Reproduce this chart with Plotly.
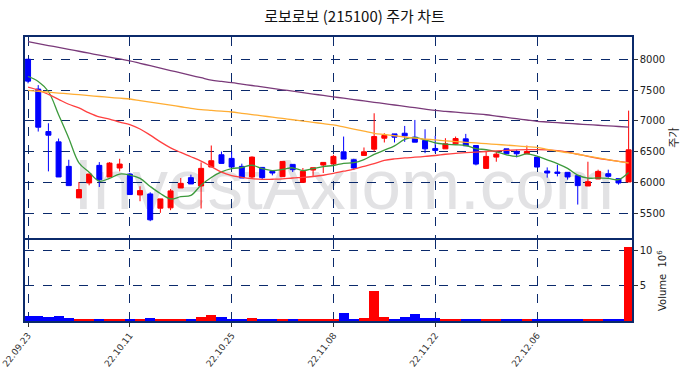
import plotly.graph_objects as go

dates = ["22.09.23","22.09.26","22.09.27","22.09.28","22.09.29","22.09.30",
         "22.10.04","22.10.05","22.10.06","22.10.07","22.10.11","22.10.12","22.10.13","22.10.14",
         "22.10.17","22.10.18","22.10.19","22.10.20","22.10.21","22.10.24","22.10.25","22.10.26",
         "22.10.27","22.10.28","22.10.31","22.11.01","22.11.02","22.11.03","22.11.04","22.11.07",
         "22.11.08","22.11.09","22.11.10","22.11.11","22.11.14","22.11.15","22.11.16","22.11.17",
         "22.11.18","22.11.21","22.11.22","22.11.23","22.11.24","22.11.25","22.11.28","22.11.29",
         "22.11.30","22.12.01","22.12.02","22.12.05","22.12.06","22.12.07","22.12.08","22.12.09",
         "22.12.12","22.12.13","22.12.14","22.12.15","22.12.16","22.12.19"]

opens = [8000,7516,6828,6661,6264,5753,5995,6280,6092,6237,6140,5801,5817,5586,5592,5914,6081,5946,6253,6452,
         6393,6264,6092,6247,6183,6097,6296,6005,6204,6285,6301,6500,6371,6441,6543,6720,6790,6801,6737,6683,
         6554,6548,6629,6710,6602,6231,6414,6548,6505,6468,6414,6188,6172,6167,6113,5946,6059,6145,6065,6011]
highs = [8000,7580,6962,6715,6371,6011,6140,6333,6333,6387,6160,5941,5844,5737,5898,6075,6129,6328,6602,6505,
         6505,6307,6425,6247,6183,6344,6300,6237,6242,6328,6452,6747,6387,6570,7124,6801,6790,6919,7016,6865,
         6758,6720,6747,6790,6602,6505,6505,6548,6532,6602,6414,6247,6290,6167,6113,6339,6210,6210,6065,7167]
lows = [7610,6828,6183,6092,5952,5753,5957,5930,6092,6183,5800,5699,5376,5511,5554,5914,5979,5581,6253,6312,
        6253,6075,6059,6049,6118,6097,6172,5995,6102,6156,6301,6382,6204,6441,6505,6651,6651,6661,6656,6478,
        6479,6548,6629,6597,6280,6231,6339,6468,6409,6468,6253,6081,6102,6049,5645,5946,6059,6081,5968,6011]
closes = [7645,6898,6769,6092,5952,5887,6140,6049,6317,6301,5807,5871,5398,5737,5866,5989,5979,6231,6355,6312,
          6253,6075,6414,6081,6156,6344,6210,6183,6242,6328,6425,6382,6237,6500,6747,6764,6737,6758,6656,6548,
          6522,6629,6715,6597,6301,6425,6462,6468,6468,6505,6253,6156,6151,6092,5952,6016,6183,6102,5995,6532]

ma5 = [7720,7640,7477,7101,6720,6320,6168,6024,6069,6139,6123,6069,5939,5823,5736,5772,5794,5960,6084,6173,
       6226,6245,6282,6227,6196,6214,6241,6195,6227,6261,6278,6312,6323,6374,6458,6526,6597,6701,6732,6693,
       6644,6623,6614,6602,6553,6533,6500,6451,6425,6466,6431,6370,6307,6231,6121,6073,6079,6069,6050,6166]
ma20 = [7548,7500,7430,7350,7270,7210,7130,7065,7030,6980,6940,6870,6770,6660,6564,6490,6420,6348,6260,6170,
        6115,6085,6065,6053,6055,6060,6075,6085,6100,6120,6150,6185,6220,6265,6310,6360,6385,6400,6412,6425,
        6440,6460,6475,6485,6495,6505,6515,6522,6530,6535,6535,6530,6520,6495,6460,6425,6395,6370,6345,6325]
ma60 = [7494,7480,7466,7452,7438,7425,7410,7396,7382,7368,7355,7330,7305,7280,7255,7230,7205,7183,7170,7158,
        7145,7124,7103,7082,7061,7040,7019,6998,6977,6956,6935,6902,6868,6834,6800,6780,6760,6740,6720,6706,
        6692,6678,6665,6654,6643,6631,6620,6608,6596,6583,6570,6540,6510,6485,6460,6430,6400,6372,6345,6317]
ma120 = [8284,8253,8222,8191,8160,8129,8097,8066,8035,8004,7973,7934,7895,7856,7817,7778,7739,7700,7661,7640,
         7620,7597,7574,7551,7528,7505,7482,7459,7436,7413,7390,7368,7346,7324,7302,7280,7258,7236,7214,7192,
         7170,7156,7142,7128,7114,7100,7079,7058,7036,7015,6994,6983,6972,6961,6950,6940,6930,6920,6910,6900]

volume_m = [0.71,0.71,0.57,0.71,0.38,0.28,0.28,0.28,0.28,0.28,0.28,0.28,0.42,0.28,0.28,0.28,0.28,0.57,0.85,0.57,
            0.28,0.28,0.42,0.28,0.14,0.28,0.14,0.14,0.14,0.14,0.28,1.13,0.28,0.42,4.25,0.57,0.28,0.57,0.99,0.42,
            0.42,0.28,0.28,0.28,0.28,0.14,0.14,0.14,0.14,0.14,0.14,0.10,0.10,0.10,0.10,0.12,0.12,0.10,0.10,10.47]

tick_idx = [0, 10, 20, 30, 40, 50]
tick_dates = [dates[i] for i in tick_idx]

UP = "#ff0000"
DOWN = "#0000ff"
NAVY = "#0b2a6b"

vol_colors = [UP if c >= o else DOWN for o, c in zip(opens, closes)]

fig = go.Figure()
fig.add_trace(go.Candlestick(
    x=dates, open=opens, high=highs, low=lows, close=closes,
    increasing=dict(line=dict(color=UP, width=1), fillcolor=UP),
    decreasing=dict(line=dict(color=DOWN, width=1), fillcolor=DOWN),
    whiskerwidth=0, showlegend=False, xaxis="x", yaxis="y"))

for vals, col in [(ma5, "#3c9a3c"), (ma20, "#ff4040"), (ma60, "#ffad33"), (ma120, "#7a3a7a")]:
    fig.add_trace(go.Scatter(x=dates, y=vals, mode="lines", line=dict(color=col, width=1.3, shape="spline"),
                             showlegend=False, hoverinfo="skip", xaxis="x", yaxis="y"))

fig.add_trace(go.Bar(x=dates, y=volume_m, marker=dict(color=vol_colors, line=dict(width=0)),
                     showlegend=False, xaxis="x2", yaxis="y2"))

axis_common = dict(showline=True, mirror=True, linecolor=NAVY, linewidth=1.5, automargin=False,
                   gridcolor=NAVY, griddash="dash", gridwidth=1, zeroline=False)

xr = [-0.3, 59.33]
fig.update_layout(
    width=691, height=378,
    margin=dict(l=25, r=59, t=37, b=57, autoexpand=False),
    paper_bgcolor="white", plot_bgcolor="white",
    bargap=0.0,
    title=dict(text="로보로보 (215100) 주가 차트", x=0.513, xanchor="center", y=0.955, yanchor="middle",
               font=dict(family="Noto Sans CJK KR", size=15, color="#111111"), automargin=False),
    xaxis=dict(type="category", range=xr, domain=[0, 1], anchor="y", tickvals=tick_dates,
               showticklabels=False, ticks="", rangeslider=dict(visible=False), **axis_common),
    yaxis=dict(domain=[0.292, 1], range=[5102, 8360], side="right", tickvals=[5500, 6000, 6500, 7000, 7500, 8000],
               ticks="outside", ticklen=4, tickcolor="#333333",
               tickfont=dict(family="DejaVu Sans", size=10, color="#222222"),
               title=dict(text="주가", font=dict(family="Noto Sans CJK KR", size=11, color="#222222"), standoff=6),
               **axis_common),
    xaxis2=dict(type="category", range=xr, domain=[0, 1], anchor="y2", tickvals=tick_dates,
                ticktext=tick_dates, tickangle=-52, ticks="outside", ticklen=4, tickcolor="#333333",
                tickfont=dict(family="DejaVu Sans", size=9, color="#333333"), **axis_common),
    yaxis2=dict(domain=[0, 0.284], range=[0, 11.47], side="right", tickvals=[5, 10],
                ticks="outside", ticklen=4, tickcolor="#333333",
                tickfont=dict(family="DejaVu Sans", size=10, color="#222222"),
                title=dict(text="Volume  10<sup>6</sup>", font=dict(family="DejaVu Sans", size=10, color="#222222"), standoff=8),
                **axis_common),
    shapes=[dict(type="rect", xref="paper", yref="paper", x0=0.05, x1=1.0, y0=0.395, y1=0.615,
                 line=dict(width=0), fillcolor="rgba(0,0,0,0)", layer="below",
                 label=dict(text="InvestAxiom.com", textposition="middle center",
                            font=dict(family="Liberation Sans", size=71, color="#e2e2e4")))],
)

fig.write_html("out.html", config={"displayModeBar": False},
               post_script="document.body.style.margin='0';document.body.style.overflow='hidden';")
